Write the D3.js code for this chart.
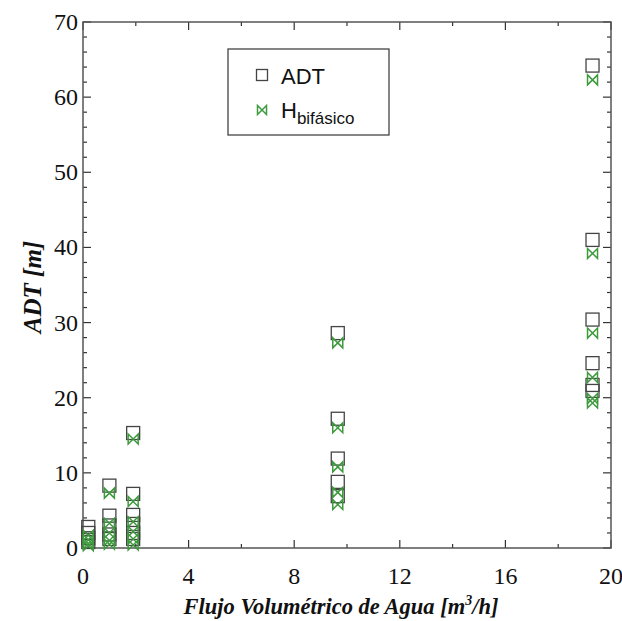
<!DOCTYPE html>
<html>
<head>
<meta charset="utf-8">
<script src="https://cdn.jsdelivr.net/npm/d3@7"></script>
<style>
  html, body { margin: 0; padding: 0; background: #fff; }
  svg { display: block; }
</style>
</head>
<body>
<svg id="chart" width="622" height="621"></svg>
<script>
// Volumetric water flow [m3/h] for each measured point
const flowADT = [0.2, 0.2, 0.2, 0.2,
                 1.0, 1.0, 1.0, 1.0, 1.0,
                 1.9, 1.9, 1.9, 1.9, 1.9, 1.9,
                 9.65, 9.65, 9.65, 9.65, 9.65,
                 19.3, 19.3, 19.3, 19.3, 19.3, 19.3];
// Total dynamic head ADT [m]
const adt = [2.8, 2.0, 1.3, 0.8,
             8.3, 4.3, 3.0, 1.8, 1.2,
             15.3, 7.2, 4.4, 3.2, 2.0, 1.2,
             28.6, 17.2, 11.9, 8.8, 6.9,
             64.2, 41.0, 30.4, 24.6, 21.7, 20.9];
// Two-phase head H_bifásico [m]
const hBif = [1.7, 1.1, 0.6, 0.3,
              7.3, 3.3, 2.0, 1.0, 0.5,
              14.5, 6.2, 3.5, 2.2, 1.2, 0.4,
              27.3, 16.0, 10.8, 7.4, 5.8,
              62.3, 39.2, 28.6, 22.7, 19.9, 19.3];
const xMajorTicks = [0, 4, 8, 12, 16, 20];
const yMajorTicks = [0, 10, 20, 30, 40, 50, 60, 70];

const svg = d3.select("#chart");
const m = { left: 83, right: 611, top: 22, bottom: 548 };

const x = d3.scaleLinear().domain([0, 20]).range([m.left, m.right]);
const y = d3.scaleLinear().domain([0, 70]).range([m.bottom, m.top]);

const frameColor = "#555";
const serif = "'Liberation Serif', 'Times New Roman', serif";
const sans = "'Liberation Sans', Arial, sans-serif";

// Tick marks on all four sides, pointing inward
const xMinor = d3.range(0, 20.001, 2);
const yMinor = d3.range(0, 70.001, 2);
const ticks = svg.append("g").attr("stroke", "#333").attr("stroke-width", 1.2);

xMinor.forEach(v => {
  const len = xMajorTicks.includes(v) ? 8 : 4;
  ticks.append("line").attr("x1", x(v)).attr("x2", x(v))
    .attr("y1", m.bottom).attr("y2", m.bottom - len);
  ticks.append("line").attr("x1", x(v)).attr("x2", x(v))
    .attr("y1", m.top).attr("y2", m.top + len);
});
yMinor.forEach(v => {
  const len = v % 10 === 0 ? 8 : 4;
  ticks.append("line").attr("y1", y(v)).attr("y2", y(v))
    .attr("x1", m.left).attr("x2", m.left + len);
  ticks.append("line").attr("y1", y(v)).attr("y2", y(v))
    .attr("x1", m.right).attr("x2", m.right - len);
});

// Plot frame
svg.append("rect")
  .attr("x", m.left).attr("y", m.top)
  .attr("width", m.right - m.left).attr("height", m.bottom - m.top)
  .attr("fill", "none").attr("stroke", frameColor).attr("stroke-width", 1.5);

// Tick labels
svg.append("g").selectAll("text").data(xMajorTicks).join("text")
  .attr("x", d => x(d)).attr("y", 584)
  .attr("text-anchor", "middle")
  .attr("font-family", serif).attr("font-size", 24).attr("fill", "#111")
  .text(d => d);
svg.append("g").selectAll("text").data(yMajorTicks).join("text")
  .attr("x", 78).attr("y", d => y(d) + 8)
  .attr("text-anchor", "end")
  .attr("font-family", serif).attr("font-size", 24).attr("fill", "#111")
  .text(d => d);

// Axis titles
const xt = svg.append("text")
  .attr("x", 341).attr("y", 614)
  .attr("text-anchor", "middle")
  .attr("font-family", serif).attr("font-size", 22.5)
  .attr("font-weight", "bold").attr("font-style", "italic").attr("fill", "#111");
xt.append("tspan").text("Flujo Volumétrico de Agua [m");
xt.append("tspan").attr("font-size", 14).attr("dy", -9).text("3");
xt.append("tspan").attr("dy", 9).text("/h]");

svg.append("text")
  .attr("transform", "translate(41,287) rotate(-90)")
  .attr("text-anchor", "middle")
  .attr("font-family", serif).attr("font-size", 25)
  .attr("font-weight", "bold").attr("font-style", "italic").attr("fill", "#111")
  .text("ADT [m]");

// Marker shapes
function squareMarker(g, cx, cy, s) {
  g.append("rect").attr("x", cx - s / 2).attr("y", cy - s / 2)
    .attr("width", s).attr("height", s)
    .attr("fill", "none").attr("stroke", "#444").attr("stroke-width", 1.3);
}
function bowtieMarker(g, cx, cy, s) {
  const h = s / 2;
  g.append("path")
    .attr("d", `M${cx - h},${cy - h}L${cx + h},${cy + h}L${cx + h},${cy - h}L${cx - h},${cy + h}Z`)
    .attr("fill", "none").attr("stroke", "#3d9a3d").attr("stroke-width", 1.5)
    .attr("stroke-linejoin", "miter");
}

// Data points
const pts = svg.append("g");
flowADT.forEach((f, i) => squareMarker(pts, x(f), y(adt[i]), 13));
flowADT.forEach((f, i) => bowtieMarker(pts, x(f), y(hBif[i]), 10));

// Legend
const lg = svg.append("g");
lg.append("rect").attr("x", 228).attr("y", 49).attr("width", 161).attr("height", 86)
  .attr("fill", "#fff").attr("stroke", "#444").attr("stroke-width", 1.3);
squareMarker(lg, 262, 75, 11);
bowtieMarker(lg, 262, 110, 9);
lg.append("text").attr("x", 281).attr("y", 84)
  .attr("font-family", sans).attr("font-size", 22).attr("fill", "#111").text("ADT");
const lh = lg.append("text").attr("x", 281).attr("y", 118)
  .attr("font-family", sans).attr("font-size", 22).attr("fill", "#111");
lh.append("tspan").text("H");
lh.append("tspan").attr("font-size", 17).attr("dy", 6).text("bifásico");
</script>
</body>
</html>
